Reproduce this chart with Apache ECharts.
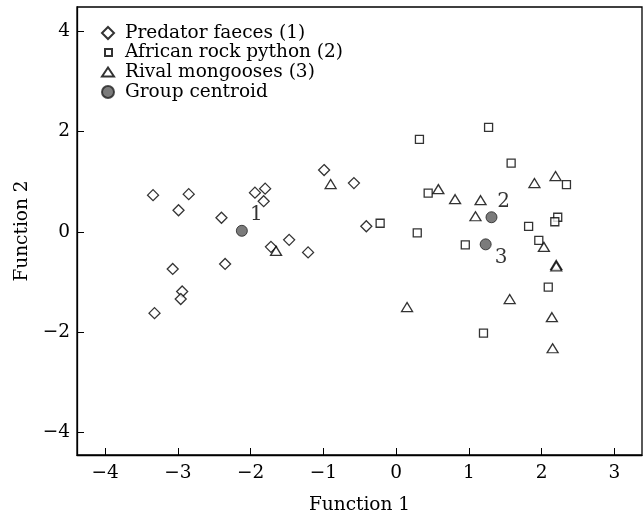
<!DOCTYPE html>
<html><head><meta charset="utf-8">
<script src="https://cdn.jsdelivr.net/npm/echarts@6/dist/echarts.min.js"></script>
<style>html,body{margin:0;padding:0;background:#fff}#c{width:644px;height:517px}</style>
</head><body><div id="c"></div>
<script>
const xTicks = [-4, -3, -2, -1, 0, 1, 2, 3];
const yTicks = [-4, -2, 0, 2, 4];
const predator = [[-3.34,0.73],[-2.85,0.75],[-2.99,0.43],[-2.40,0.28],[-1.94,0.78],[-1.80,0.86],[-1.82,0.61],[-0.99,1.23],[-0.58,0.97],[-1.72,-0.30],[-1.47,-0.16],[-1.21,-0.41],[-2.35,-0.64],[-3.07,-0.74],[-2.94,-1.19],[-2.96,-1.34],[-3.32,-1.62],[-0.41,0.11]];
const python = [[-0.22,0.17],[0.32,1.84],[1.27,2.08],[0.44,0.77],[0.29,-0.02],[0.95,-0.26],[1.58,1.37],[2.34,0.94],[2.22,0.29],[2.18,0.20],[1.82,0.11],[1.96,-0.17],[2.09,-1.10],[1.20,-2.02]];
const mongoose = [[-0.90,0.95],[-1.65,-0.38],[0.58,0.85],[0.81,0.65],[1.16,0.63],[1.09,0.31],[0.15,-1.50],[1.90,0.97],[2.19,1.11],[2.03,-0.30],[2.20,-0.66],[2.20,-0.69],[1.56,-1.34],[2.14,-1.70],[2.15,-2.32]];
const centroids = [[-2.12,0.02],[1.31,0.29],[1.23,-0.25]];
const centroidLabels = ['1','2','3'];
const seriesNames = ['Predator faeces (1)','African rock python (2)','Rival mongooses (3)','Group centroid'];

const FONT = 'DejaVu Serif';
const FS = 18.5;
const hollow = {color:'#fff', borderColor:'#000', borderWidth:1.3};
const labelOffsets = [[20.5,-10.5],[18,-9],[21.5,19]];

// per-item legend layout: [left, centerY, iconW, iconH, textPadLeft]
const legendLayout = [[101,33,12,12,6],[104,52.5,7,7,8],[101,72,12,9,6],[101,92,12,12,6]];
const legends = seriesNames.map((n,i)=>{
  const L = legendLayout[i];
  return {
    data:[n], left:L[0], top:L[1]-10, padding:0, itemWidth:L[2], itemHeight:L[3],
    selectedMode:false,
    textStyle:{fontFamily:FONT, fontSize:FS, color:'#000', lineHeight:20, padding:[0,0,0,L[4]]}
  };
});

const chart = echarts.init(document.getElementById('c'));
chart.setOption({
  animation:false,
  textStyle:{fontFamily:FONT, color:'#000'},
  grid:{left:77, right:2, top:7, bottom:62, outerBoundsMode:'none', containLabel:false,
    show:true, borderColor:'#000', borderWidth:1.3, backgroundColor:'transparent'},
  legend:legends,
  xAxis:{
    type:'value', min:-4.385, max:3.378,
    name:'Function 1', nameLocation:'middle', nameGap:41,
    nameTextStyle:{fontFamily:FONT, fontSize:FS, color:'#000'},
    axisLine:{show:true, onZero:false, lineStyle:{color:'#000', width:1.3}},
    axisTick:{show:true, inside:true, length:7, customValues:xTicks, lineStyle:{color:'#000'}},
    axisLabel:{customValues:xTicks, fontFamily:FONT, fontSize:FS, color:'#000', margin:9,
      formatter:v=> v<0 ? '\u2212'+Math.abs(v) : String(v)},
    splitLine:{show:false}
  },
  yAxis:{
    type:'value', min:-4.446, max:4.478,
    name:'Function 2', nameLocation:'middle', nameGap:45,
    nameTextStyle:{fontFamily:FONT, fontSize:FS, color:'#000'},
    axisLine:{show:true, onZero:false, lineStyle:{color:'#000', width:1.3}},
    axisTick:{show:true, inside:true, length:7, customValues:yTicks, lineStyle:{color:'#000'}},
    axisLabel:{customValues:yTicks, fontFamily:FONT, fontSize:FS, color:'#000', margin:7,
      formatter:v=> v<0 ? '\u2212'+Math.abs(v) : String(v)},
    splitLine:{show:false}
  },
  series:[
    {name:seriesNames[0], type:'scatter', symbol:'diamond', symbolSize:[11,11], itemStyle:hollow, data:predator},
    {name:seriesNames[1], type:'scatter', symbol:'rect', symbolSize:8, itemStyle:hollow, data:python},
    {name:seriesNames[2], type:'scatter', symbol:'triangle', symbolSize:[11,9], itemStyle:hollow, data:mongoose},
    {name:seriesNames[3], type:'scatter', symbol:'circle', symbolSize:11,
      itemStyle:{color:'#5a5a5a', borderColor:'#222', borderWidth:1},
      data:centroids.map((c,i)=>({value:c, label:{show:true, formatter:centroidLabels[i], position:labelOffsets[i],
        fontFamily:FONT, fontSize:20, color:'#000', align:'center', verticalAlign:'middle'}}))}
  ]
});
</script></body></html>
